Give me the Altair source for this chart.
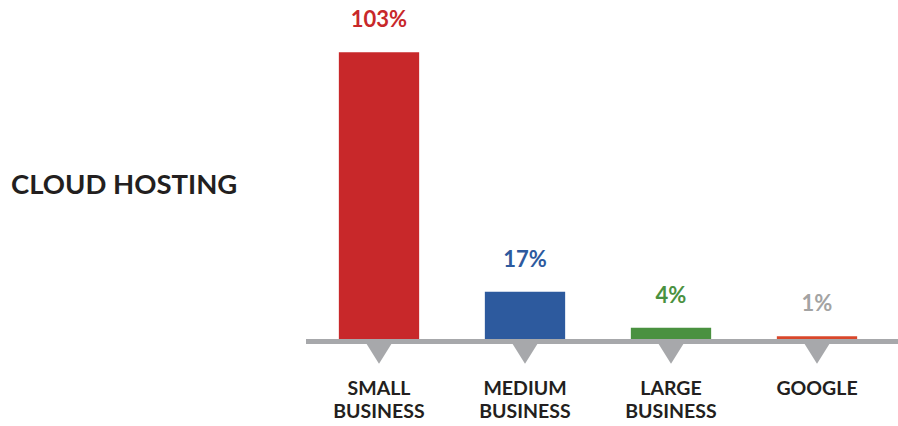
import altair as alt
import pandas as pd

categories = ["SMALL BUSINESS", "MEDIUM BUSINESS", "LARGE BUSINESS", "GOOGLE"]
axis_labels = ["SMALL\nBUSINESS", "MEDIUM\nBUSINESS", "LARGE\nBUSINESS", "GOOGLE"]
values = [103, 17, 4, 1]
value_labels = ["103%", "17%", "4%", "1%"]
title_text = "CLOUD HOSTING"

bar_colors = ["#c8282a", "#2d5a9e", "#4a9140", "#d9472b"]
label_colors = ["#c8282a", "#2d5a9e", "#4a9140", "#a3a3a3"]
gray = "#a7a8ab"
dark = "#231f20"
FONT = "Lato"

df = pd.DataFrame({
    "category": categories,
    "axis_label": axis_labels,
    "value": values,
    "value_label": value_labels,
})

x_enc = alt.X("category:N", sort=categories, axis=None,
              scale=alt.Scale(domain=categories, paddingInner=0.45, paddingOuter=0.225))
y_scale = alt.Scale(domain=[0, 121.8], nice=False, zero=True)

base = alt.Chart(df)

bars = base.mark_bar().encode(
    x=x_enc,
    y=alt.Y("value:Q", scale=y_scale, axis=None),
    color=alt.Color("category:N", scale=alt.Scale(domain=categories, range=bar_colors), legend=None),
)

vlabels = base.mark_text(font=FONT, fontWeight="bold", fontSize=22, baseline="alphabetic",
                         align="center", dy=-25).encode(
    x=x_enc,
    y=alt.Y("value:Q", scale=y_scale, axis=None),
    text="value_label:N",
    color=alt.Color("value_label:N", scale=alt.Scale(domain=value_labels, range=label_colors), legend=None),
)

baseline = base.mark_rule(color=gray, strokeWidth=5, strokeCap="butt").encode(
    x=alt.value(0), x2=alt.value(592), y=alt.value(341.5)
)

triangles = base.mark_point(shape="M-1,-0.8L1,-0.8L0,0.8Z", size=660, filled=True,
                            color=gray, opacity=1, strokeWidth=0).encode(
    x=x_enc, y=alt.value(353.5)
)

cat_labels = base.mark_text(font=FONT, fontWeight="bold", fontSize=19.5, color=dark,
                            baseline="alphabetic", align="center", lineBreak="\n",
                            lineHeight=23).encode(
    x=x_enc, y=alt.value(394.5), text="axis_label:N"
)

title = alt.Chart(pd.DataFrame({"t": [title_text]})).mark_text(
    font=FONT, fontWeight="bold", fontSize=27.5, color=dark, align="left", baseline="alphabetic"
).encode(x=alt.value(-295), y=alt.value(194), text="t:N")

chart = alt.layer(baseline, bars, triangles, vlabels, cat_labels, title).resolve_scale(
    color="independent"
).properties(
    width=584, height=339,
    background="white",
    autosize=alt.AutoSizeParams(type="none"),
    padding={"left": 306, "top": 0, "right": 8, "bottom": 87},
).configure_view(stroke=None)

chart.save("out.html", embed_options={"renderer": "svg", "actions": False})
